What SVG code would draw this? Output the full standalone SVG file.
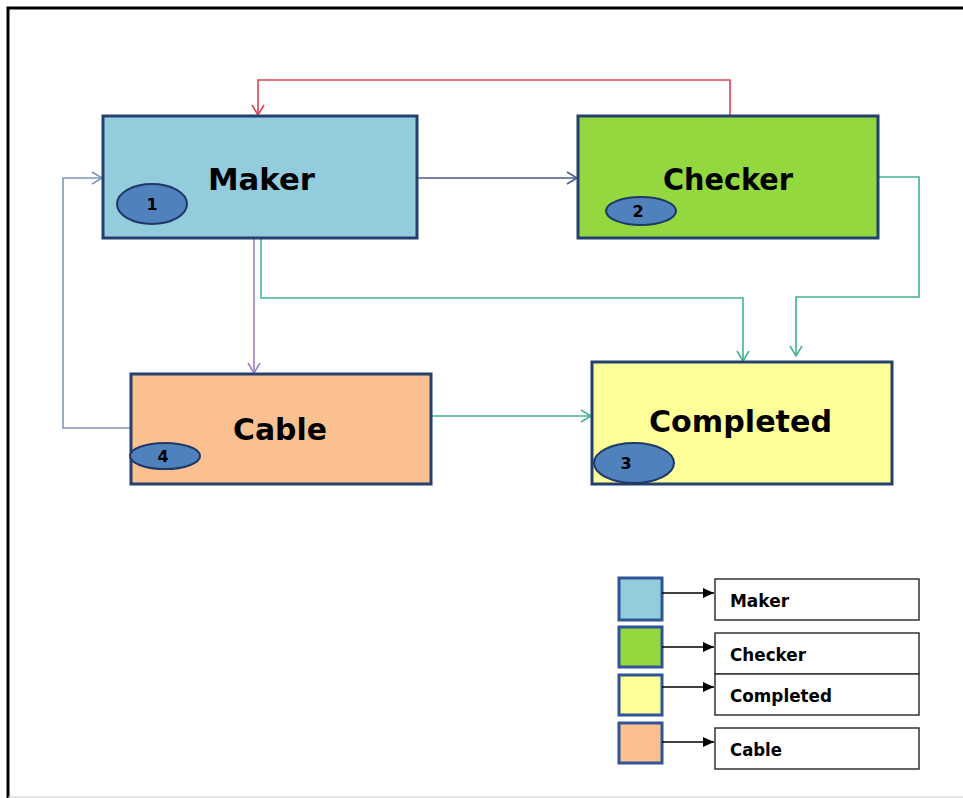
<svg xmlns="http://www.w3.org/2000/svg" width="963" height="798" viewBox="0 0 963 798">
<defs>
<style>
.box{stroke:#24406e;stroke-width:3}
.lbl{font-family:"DejaVu Sans",sans-serif;font-weight:bold;font-size:31px;fill:#000}
.num{font-family:"DejaVu Sans",sans-serif;font-weight:bold;font-size:16px;fill:#000}
.oval{fill:#4f81bd;stroke:#1f3864;stroke-width:2}
.conn{fill:none;stroke-width:1.6}
.leg{fill:#fff;stroke:#333;stroke-width:1.5}
.legsq{stroke:#2f5597;stroke-width:3}
.legt{font-family:"DejaVu Sans",sans-serif;font-weight:bold;font-size:17px;fill:#000}
</style>
<marker id="aRed" markerWidth="14" markerHeight="14" refX="11" refY="7" orient="auto" markerUnits="userSpaceOnUse"><path d="M1,1 L11,7 L1,13" fill="none" stroke="#dd4455" stroke-width="1.6"/></marker>
<marker id="aSlate" markerWidth="14" markerHeight="14" refX="11" refY="7" orient="auto" markerUnits="userSpaceOnUse"><path d="M1,1 L11,7 L1,13" fill="none" stroke="#4b5b8f" stroke-width="1.6"/></marker>
<marker id="aTeal" markerWidth="14" markerHeight="14" refX="11" refY="7" orient="auto" markerUnits="userSpaceOnUse"><path d="M1,1 L11,7 L1,13" fill="none" stroke="#45b38f" stroke-width="1.6"/></marker>
<marker id="aPurple" markerWidth="14" markerHeight="14" refX="11" refY="7" orient="auto" markerUnits="userSpaceOnUse"><path d="M1,1 L11,7 L1,13" fill="none" stroke="#9f7fc8" stroke-width="1.6"/></marker>
<marker id="aLight" markerWidth="14" markerHeight="14" refX="11" refY="7" orient="auto" markerUnits="userSpaceOnUse"><path d="M1,1 L11,7 L1,13" fill="none" stroke="#7f96bc" stroke-width="1.6"/></marker>
<marker id="aBlk" markerWidth="12" markerHeight="12" refX="11" refY="6" orient="auto" markerUnits="userSpaceOnUse"><path d="M0,1 L11,6 L0,11 Z" fill="#000"/></marker>
</defs>
<rect x="0" y="0" width="963" height="798" fill="#fff"/>
<g id="frame">
<path d="M8,798 L8,8 L963,8" fill="none" stroke="#000" stroke-width="3"/>
<line x1="8" y1="797" x2="963" y2="797" stroke="#ccc" stroke-width="1"/>
</g>
<g id="connectors">
<path class="conn" d="M730,116 L730,80 L258,80 L258,115" stroke="#dd4455" marker-end="url(#aRed)"/>
<path class="conn" d="M417,178 L577,178" stroke="#4b5b8f" marker-end="url(#aSlate)"/>
<path class="conn" d="M878,177 L919,177 L919,297 L796,297 L796,356" stroke="#45b38f" marker-end="url(#aTeal)"/>
<path class="conn" d="M261,238 L261,298 L743,298 L743,361" stroke="#45b38f" marker-end="url(#aTeal)"/>
<path class="conn" d="M254,238 L254,373" stroke="#9f7fc8" marker-end="url(#aPurple)"/>
<path class="conn" d="M131,428 L63,428 L63,178 L102,178" stroke="#7f96bc" marker-end="url(#aLight)"/>
<path class="conn" d="M431,416 L591,416" stroke="#45b38f" marker-end="url(#aTeal)"/>
</g>
<g id="maker">
<rect class="box" x="103" y="116" width="314" height="122" fill="#93cddd"/>
<text class="lbl" x="208" y="190" textLength="107" lengthAdjust="spacingAndGlyphs">Maker</text>
<ellipse class="oval" cx="152" cy="204" rx="35" ry="20"/>
<text class="num" x="152" y="210" text-anchor="middle">1</text>
</g>
<g id="checker">
<rect class="box" x="578" y="116" width="300" height="122" fill="#92d83e"/>
<text class="lbl" x="663" y="190" textLength="130" lengthAdjust="spacingAndGlyphs">Checker</text>
<ellipse class="oval" cx="641" cy="211" rx="35" ry="14"/>
<text class="num" x="638" y="217" text-anchor="middle">2</text>
</g>
<g id="cable">
<rect class="box" x="131" y="374" width="300" height="110" fill="#fac090"/>
<text class="lbl" x="233" y="440" textLength="94" lengthAdjust="spacingAndGlyphs">Cable</text>
<ellipse class="oval" cx="165" cy="456" rx="35" ry="13"/>
<text class="num" x="163" y="462" text-anchor="middle">4</text>
</g>
<g id="completed">
<rect class="box" x="592" y="362" width="300" height="122" fill="#ffff99"/>
<text class="lbl" x="649" y="432" textLength="183" lengthAdjust="spacingAndGlyphs">Completed</text>
<ellipse class="oval" cx="634" cy="463" rx="40" ry="20"/>
<text class="num" x="626" y="469" text-anchor="middle">3</text>
</g>
<g id="legend">
<rect class="legsq" x="619" y="578" width="43" height="42" fill="#93cddd"/>
<rect class="legsq" x="619" y="627" width="43" height="40" fill="#92d83e"/>
<rect class="legsq" x="619" y="675" width="43" height="40" fill="#ffff99"/>
<rect class="legsq" x="619" y="723" width="43" height="40" fill="#fac090"/>
<rect class="leg" x="715" y="579" width="204" height="41"/>
<rect class="leg" x="715" y="633" width="204" height="41"/>
<rect class="leg" x="715" y="674" width="204" height="41"/>
<rect class="leg" x="715" y="728" width="204" height="41"/>
<line x1="662" y1="593" x2="714" y2="593" stroke="#000" stroke-width="1.5" marker-end="url(#aBlk)"/>
<line x1="662" y1="647" x2="714" y2="647" stroke="#000" stroke-width="1.5" marker-end="url(#aBlk)"/>
<line x1="662" y1="687" x2="714" y2="687" stroke="#000" stroke-width="1.5" marker-end="url(#aBlk)"/>
<line x1="662" y1="742" x2="714" y2="742" stroke="#000" stroke-width="1.5" marker-end="url(#aBlk)"/>
<text class="legt" x="730" y="607" textLength="59" lengthAdjust="spacingAndGlyphs">Maker</text>
<text class="legt" x="730" y="661" textLength="76" lengthAdjust="spacingAndGlyphs">Checker</text>
<text class="legt" x="730" y="702" textLength="102" lengthAdjust="spacingAndGlyphs">Completed</text>
<text class="legt" x="730" y="756" textLength="52" lengthAdjust="spacingAndGlyphs">Cable</text>
</g>
</svg>
